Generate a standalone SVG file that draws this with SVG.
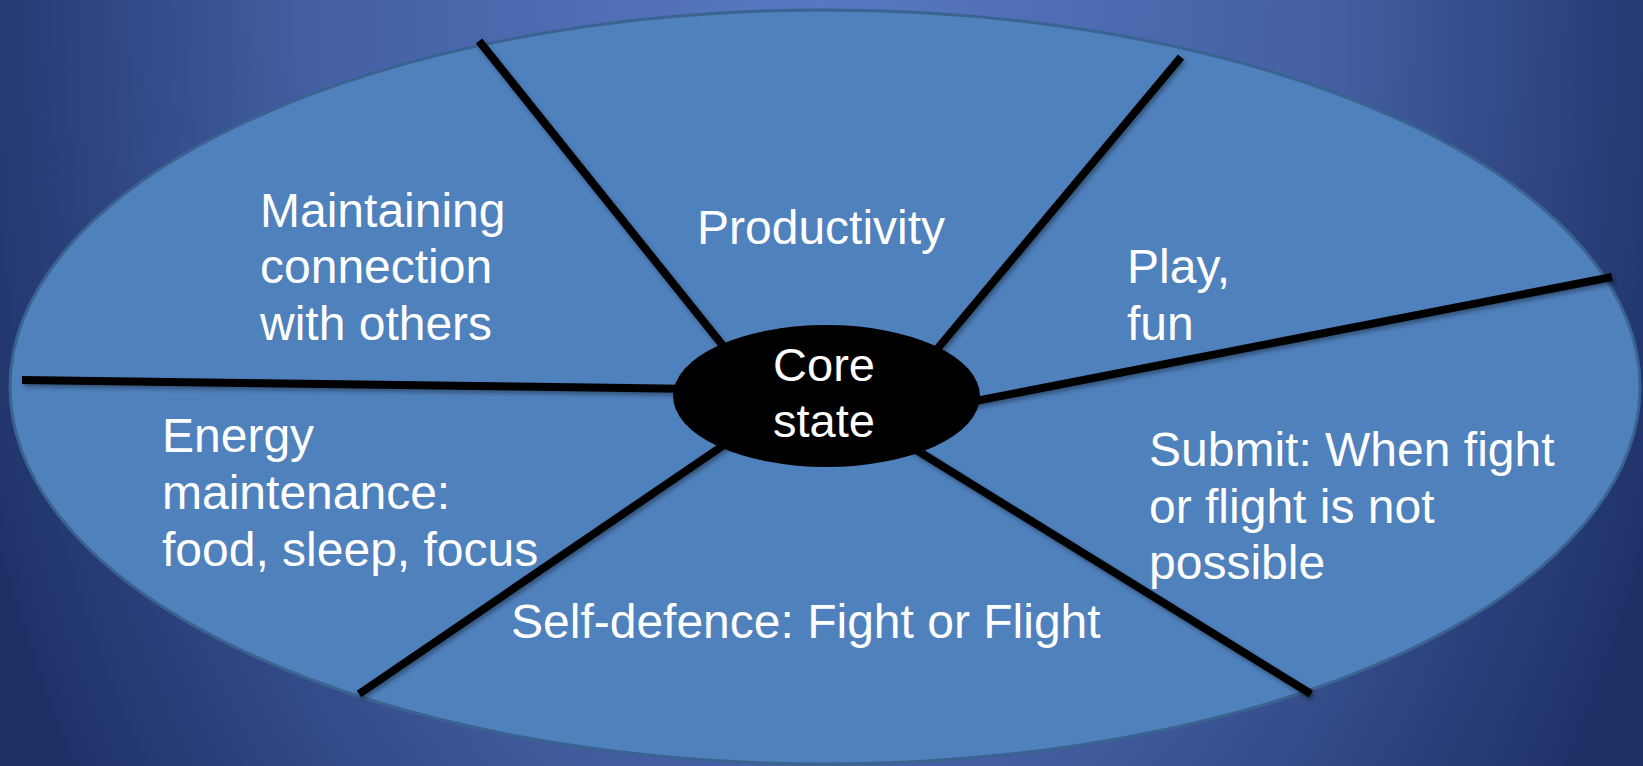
<svg xmlns="http://www.w3.org/2000/svg" width="1643" height="766" viewBox="0 0 1643 766">
  <defs>
    <radialGradient id="bg" gradientUnits="userSpaceOnUse" cx="821" cy="0" r="1000" gradientTransform="translate(821 0) scale(0.9 1.4) translate(-821 0)">
      <stop offset="0" stop-color="#5879c2"/>
      <stop offset="0.55" stop-color="#4560a4"/>
      <stop offset="1" stop-color="#1e3167"/>
    </radialGradient>
    <filter id="sh" x="-10%" y="-10%" width="120%" height="130%">
      <feDropShadow dx="2" dy="3" stdDeviation="2" flood-color="#000" flood-opacity="0.35"/>
    </filter>
    <style>
      .spoke { stroke: #000; stroke-width: 8; stroke-linecap: butt; fill: none; }
      .lbl { font-family: "Liberation Sans", Arial, sans-serif; font-size: 48px; fill: #fff; }
      .core { font-family: "Liberation Sans", Arial, sans-serif; font-size: 47px; fill: #fff; text-anchor: middle; }
    </style>
  </defs>
  <rect x="0" y="0" width="1643" height="766" fill="url(#bg)"/>
  <g id="outer">
    <ellipse cx="825" cy="387" rx="815" ry="377" fill="#4f81bd" stroke="#3b6390" stroke-width="3"/>
  </g>
  <g id="connectors" filter="url(#sh)">
    <line class="spoke" x1="479" y1="41" x2="732" y2="357"/>
    <line class="spoke" x1="1181" y1="57" x2="928" y2="360"/>
    <line class="spoke" x1="1612" y1="277" x2="960" y2="404"/>
    <line class="spoke" x1="1311" y1="694" x2="905" y2="443"/>
    <line class="spoke" x1="359" y1="694" x2="740" y2="434"/>
    <line class="spoke" x1="22" y1="380" x2="700" y2="389"/>
  </g>
  <g id="core">
    <ellipse cx="826.5" cy="396" rx="153.5" ry="71" fill="#000"/>
    <text class="core" x="824" y="381">Core</text>
    <text class="core" x="824" y="437">state</text>
  </g>
  <g id="maintaining">
    <text class="lbl" x="260" y="227">Maintaining</text>
    <text class="lbl" x="260" y="283">connection</text>
    <text class="lbl" x="260" y="340">with others</text>
  </g>
  <g id="productivity">
    <text class="lbl" x="697" y="244">Productivity</text>
  </g>
  <g id="play">
    <text class="lbl" x="1127" y="283">Play,</text>
    <text class="lbl" x="1127" y="340">fun</text>
  </g>
  <g id="energy">
    <text class="lbl" x="162" y="452">Energy</text>
    <text class="lbl" x="162" y="509">maintenance:</text>
    <text class="lbl" x="162" y="566">food, sleep, focus</text>
  </g>
  <g id="selfdefence">
    <text class="lbl" x="511" y="638">Self-defence: Fight or Flight</text>
  </g>
  <g id="submit">
    <text class="lbl" x="1149" y="466">Submit: When fight</text>
    <text class="lbl" x="1149" y="523">or flight is not</text>
    <text class="lbl" x="1149" y="579">possible</text>
  </g>
</svg>
